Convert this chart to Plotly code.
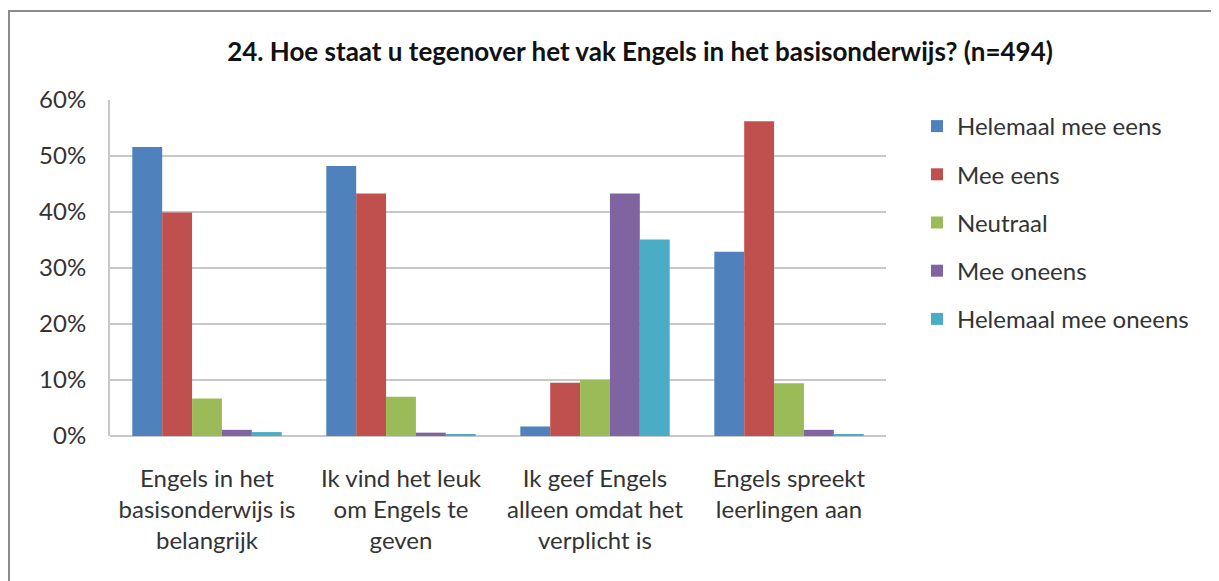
import plotly.graph_objects as go

categories = [
    "Engels in het<br>basisonderwijs is<br>belangrijk",
    "Ik vind het leuk<br>om Engels te<br>geven",
    "Ik geef Engels<br>alleen omdat het<br>verplicht is",
    "Engels spreekt<br>leerlingen aan",
]
series_names = ["Helemaal mee eens", "Mee eens", "Neutraal", "Mee oneens", "Helemaal mee oneens"]
helemaal_mee_eens = [0.516, 0.482, 0.017, 0.329]
mee_eens = [0.399, 0.433, 0.095, 0.562]
neutraal = [0.067, 0.070, 0.100, 0.094]
mee_oneens = [0.011, 0.006, 0.433, 0.011]
helemaal_mee_oneens = [0.007, 0.003, 0.351, 0.003]
y_ticks = [0, 0.1, 0.2, 0.3, 0.4, 0.5, 0.6]

colors = ["#4f81bd", "#c0504d", "#9bbb59", "#8064a2", "#4bacc6"]
values = [helemaal_mee_eens, mee_eens, neutraal, mee_oneens, helemaal_mee_oneens]

font_family = "Lato, 'Open Sans', sans-serif"

fig = go.Figure()
for name, vals, col in zip(series_names, values, colors):
    fig.add_trace(go.Bar(x=categories, y=vals, name=name, legendgroup=name,
                         marker=dict(color=col, line=dict(width=0))))

# page body has an 8px margin, so figure coords = screen coords - 8
OFF = 8
W, H = 1219 - OFF, 581 - OFF
L, R, T, B = 110 - OFF, 886 - OFF, 100 - OFF, 436 - OFF
pw, ph = R - L, B - T

def px(x):
    return (x - OFF - L) / pw

def py(y):
    return (B - (y - OFF)) / ph

fig.update_layout(
    width=W, height=H,
    margin=dict(l=L, r=W - R, t=T, b=H - B, pad=0),
    paper_bgcolor="white",
    plot_bgcolor="white",
    barmode="group",
    bargap=0.23,
    bargroupgap=0,
    font=dict(family=font_family, size=24, color="#333333"),
    title=dict(
        text="<b>24. Hoe staat u tegenover het vak Engels in het basisonderwijs? (n=494)</b>",
        x=(640 - OFF) / W, xref="container", xanchor="center",
        y=1 - (52 - OFF) / H, yanchor="middle",
        font=dict(size=26, color="#111111", family=font_family),
    ),
    xaxis=dict(showgrid=False, showline=False, ticks="", tickfont=dict(size=24, color="#333333"),
               ticklabelstandoff=26),
    yaxis=dict(
        range=[0, 0.6], tickvals=y_ticks, tickformat=".0%",
        showgrid=True, gridcolor="#c8c8c8", gridwidth=2,
        showline=True, linecolor="#c8c8c8", linewidth=2,
        zeroline=True, zerolinecolor="#c8c8c8", zerolinewidth=2,
        ticks="", ticklabelstandoff=17,
        tickfont=dict(size=24, color="#333333"),
    ),
    legend=dict(
        x=px(917), y=py(104), xanchor="left", yanchor="top",
        font=dict(size=24, color="#333333"),
        tracegroupgap=14, itemwidth=30,
        bgcolor="rgba(0,0,0,0)",
    ),
    showlegend=True,
    shapes=[
        dict(type="rect", xref="paper", yref="paper",
             x0=px(9), x1=px(1217), y0=py(620), y1=py(11),
             line=dict(color="#8c8c8c", width=2), fillcolor="rgba(0,0,0,0)", layer="below"),
    ],
)

fig.write_html("out.html")
